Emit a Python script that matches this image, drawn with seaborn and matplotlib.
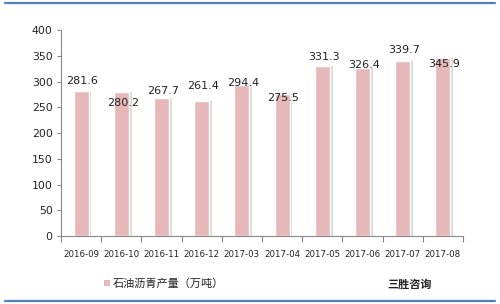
import matplotlib
matplotlib.use("Agg")
import matplotlib.pyplot as plt
import matplotlib.patheffects as pe
from matplotlib.lines import Line2D
import seaborn as sns
import pandas as pd

months = ["2016-09", "2016-10", "2016-11", "2016-12", "2017-03",
          "2017-04", "2017-05", "2017-06", "2017-07", "2017-08"]
values = [281.6, 280.2, 267.7, 261.4, 294.4, 275.5, 331.3, 326.4, 339.7, 345.9]
label_offsets = [7, -8, 5, 11, 1, -3, 6, 2, 8, -4]  # points, as in the reference
yticks = [0, 50, 100, 150, 200, 250, 300, 350, 400]
legend_label = "石油沥青产量（万吨）"
brand = "三胜咨询"

sns.set_theme(style="white")
plt.rcParams["font.family"] = ["DejaVu Sans", "Noto Sans CJK SC"]

df = pd.DataFrame({"month": months, "value": values})

fig = plt.figure(figsize=(5, 3.04), dpi=100)
ax = fig.add_axes([0.122, 0.2237, 0.804, 0.677])

bar_color = "#E6B9B8"
sns.barplot(data=df, x="month", y="value", color=bar_color, width=0.37,
            saturation=1, ax=ax)
for p in ax.patches:
    p.set_path_effects([pe.SimplePatchShadow(offset=(2, 0), shadow_rgbFace="#DADADA", alpha=1.0),
                        pe.Normal()])

for i, (v, off) in enumerate(zip(values, label_offsets)):
    ax.annotate(f"{v:.1f}", xy=(i, v), xytext=(1, off), textcoords="offset points",
                ha="center", va="center", fontsize=8, color="#222222")

ax.set_ylim(0, 400)
ax.set_xlim(-0.5, len(months) - 0.5)
ax.set_yticks(yticks)
ax.set_yticklabels([str(t) for t in yticks], fontsize=7.8, color="#222222")
ax.set_xticks(range(len(months)))
ax.set_xticklabels(months, fontsize=6.2, color="#222222")
ax.set_xlabel("")
ax.set_ylabel("")
ax.tick_params(axis="x", length=0, pad=10)
ax.tick_params(axis="y", length=3, width=0.8, color="#888888", left=True, pad=3)
# category boundary ticks
ax.set_xticks([i - 0.5 for i in range(len(months) + 1)], minor=True)
ax.tick_params(axis="x", which="minor", length=4, width=0.8, color="#888888", bottom=True)

for s in ["top", "right"]:
    ax.spines[s].set_visible(False)
for s in ["left", "bottom"]:
    ax.spines[s].set_color("#888888")
    ax.spines[s].set_linewidth(0.8)

# legend
fig.patches.append(plt.Rectangle((0.208, 0.058), 0.012, 0.02, transform=fig.transFigure,
                                 facecolor=bar_color, edgecolor="none"))
fig.text(0.226, 0.068, legend_label, fontsize=8, va="center", ha="left",
         family=["Noto Sans CJK SC", "DejaVu Sans"], color="#222222")
fig.text(0.774, 0.066, brand, fontsize=8, va="center", ha="left",
         family=["Noto Sans CJK SC", "DejaVu Sans"], color="#222222", fontweight="bold")

# blue frame lines
fig.add_artist(Line2D([0.01, 0.99], [0.99, 0.99], transform=fig.transFigure,
                      color="#4F81BD", linewidth=1.6))
fig.add_artist(Line2D([0.01, 0.99], [0.01, 0.01], transform=fig.transFigure,
                      color="#4F81BD", linewidth=1.6))

fig.savefig("out.png", dpi=100)
